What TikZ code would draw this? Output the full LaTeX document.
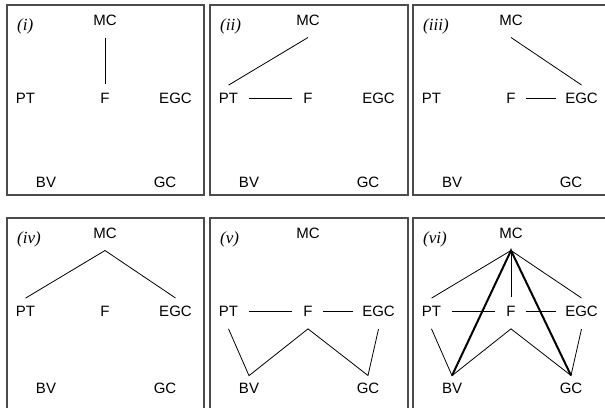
\documentclass[tikz,border=0pt]{standalone}
\usepackage{fontspec}
\setmainfont{Liberation Serif}
\setsansfont{Liberation Sans}
\newcommand\pnodes[3]{%
  \node[lab] (L#1) at (10,21) {(#2)};
  \node[txt] (MC#1) at (98,15) {MC};
  \node[txt] (PT#1) at (18.5,93.5) {PT};
  \node[txt] (F#1) at (98,93.5) {F};
  \node[txt] (EGC#1) at (168.5,93.5) {EGC};
  \node[txt] (BV#1) at (39,#3) {BV};
  \node[txt] (GC#1) at (158,#3) {GC};
}
\begin{document}
\begin{tikzpicture}[x=1pt,y=-1pt,
  txt/.style={inner sep=0pt,font=\sffamily\fontsize{15}{18}\selectfont},
  lab/.style={inner sep=0pt,anchor=west,font=\itshape\fontsize{17}{20}\selectfont},
  frame/.style={draw=black!70,line width=1.1pt},
  conn/.style={line width=0.8pt},
  heavy/.style={line width=2pt}]
\useasboundingbox (0,0) rectangle (605,407);
\clip (0,0) rectangle (605,407);
% (i)
\begin{scope}[shift={(7,5)}]
  \draw[frame] (0,0) rectangle (197,190);
  \pnodes{a}{i}{177}
  \draw[conn] ([yshift=-12pt]MCa.south) -- ([yshift=9pt]Fa.north);
\end{scope}
% (ii)
\begin{scope}[shift={(210,5)}]
  \draw[frame] (0,0) rectangle (198,190);
  \pnodes{b}{ii}{177}
  \draw[conn] ([yshift=-12pt]MCb.south) -- ([yshift=8pt]PTb.north);
  \draw[conn] ([xshift=11pt]PTb.east) -- ([xshift=-11pt]Fb.west);
\end{scope}
% (iii)
\begin{scope}[shift={(413,5)}]
  \draw[frame] (0,0) rectangle (198,190);
  \pnodes{c}{iii}{177}
  \draw[conn] ([yshift=-12pt]MCc.south) -- ([yshift=8pt]EGCc.north);
  \draw[conn] ([xshift=10pt]Fc.east) -- ([xshift=-9pt]EGCc.west);
\end{scope}
% (iv)
\begin{scope}[shift={(7,218)}]
  \draw[frame] (0,0) rectangle (197,200);
  \pnodes{d}{iv}{170}
  \draw[conn] ([yshift=8pt]PTd.north) -- ([yshift=-12pt]MCd.south) -- ([yshift=8pt]EGCd.north);
\end{scope}
% (v)
\begin{scope}[shift={(210,218)}]
  \draw[frame] (0,0) rectangle (198,200);
  \pnodes{e}{v}{170}
  \draw[conn] ([xshift=11pt]PTe.east) -- ([xshift=-11pt]Fe.west);
  \draw[conn] ([xshift=10pt]Fe.east) -- ([xshift=-9pt]EGCe.west);
  \draw[conn] ([yshift=-12pt]PTe.south) -- ([yshift=7pt]BVe.north)
    -- ([yshift=-12pt]Fe.south) -- ([yshift=7pt]GCe.north)
    -- ([yshift=-12pt]EGCe.south);
\end{scope}
% (vi)
\begin{scope}[shift={(413,218)}]
  \draw[frame] (0,0) rectangle (198,200);
  \pnodes{f}{vi}{170}
  \draw[conn] ([yshift=8pt]PTf.north) -- ([yshift=-12pt]MCf.south) -- ([yshift=8pt]EGCf.north);
  \draw[conn] ([yshift=-12pt]MCf.south) -- ([yshift=9pt]Ff.north);
  \draw[conn] ([xshift=11pt]PTf.east) -- ([xshift=-11pt]Ff.west);
  \draw[conn] ([xshift=10pt]Ff.east) -- ([xshift=-9pt]EGCf.west);
  \draw[conn] ([yshift=-12pt]PTf.south) -- ([yshift=7pt]BVf.north)
    -- ([yshift=-12pt]Ff.south) -- ([yshift=7pt]GCf.north)
    -- ([yshift=-12pt]EGCf.south);
  \draw[heavy] ([yshift=7pt]BVf.north) -- ([yshift=-12pt]MCf.south) -- ([yshift=7pt]GCf.north);
\end{scope}
\end{tikzpicture}
\end{document}
